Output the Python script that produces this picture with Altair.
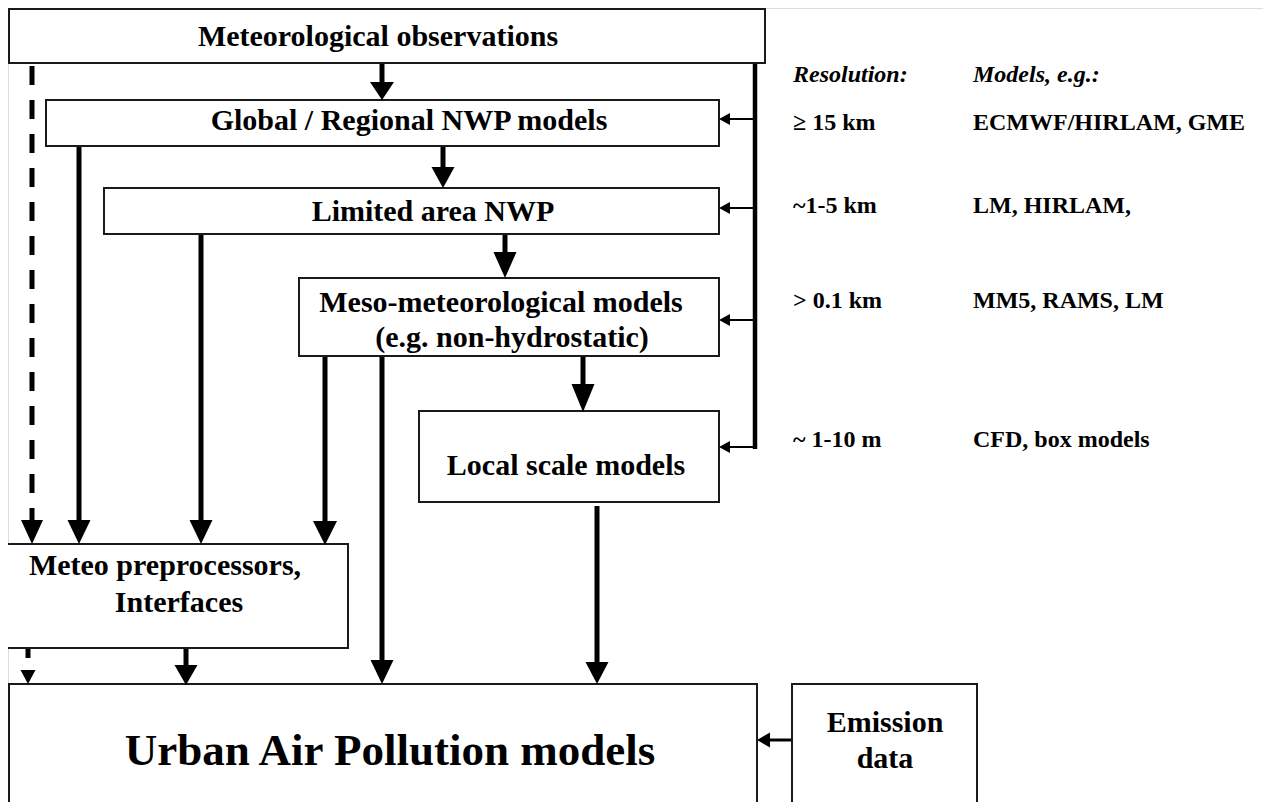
import altair as alt
import pandas as pd

# ---------------- data (reference pixel space) ----------------
box_names = ["obs", "global", "limited", "meso", "local", "prep", "urban", "emission"]
box_x1 = [9, 46, 104, 299, 419, 5, 9, 792]
box_x2 = [765, 719, 719, 719, 719, 348, 757, 977]
box_y1 = [9, 100, 188, 278, 411, 544, 684, 684]
box_y2 = [63, 146, 234, 356, 502, 648, 830, 830]

box_text = ["Meteorological observations", "Global / Regional NWP models", "Limited area NWP",
            "Meso-meteorological models", "(e.g. non-hydrostatic)", "Local scale models",
            "Meteo preprocessors,", "Interfaces", "Urban Air Pollution models", "Emission", "data"]
box_text_x = [378, 409, 433, 501, 512, 566, 165, 179, 390, 885, 885]
box_text_y = [46, 130, 221, 312, 347, 475, 575, 612, 765, 732, 768]
box_text_size = [30, 30, 30, 30, 30, 30, 30, 30, 45, 30, 30]

header_text = ["Resolution:", "Models, e.g.:"]
header_x = [793, 973]
header_y = [82, 82]

res_labels = ["\u2265 15 km", "~1-5 km", "> 0.1 km", "~ 1-10 m"]
model_labels = ["ECMWF/HIRLAM, GME", "LM, HIRLAM,", "MM5, RAMS, LM", "CFD, box models"]
row_y = [130, 213, 308, 447]
res_x = 793
model_x = 973

# downward arrows (solid)
down_x = [382, 443, 505, 583, 79, 201, 325, 382, 597, 186]
down_start = [63, 146, 234, 356, 146, 228, 356, 356, 506, 648]
down_tip = [100, 188, 278, 412, 544, 544, 545, 684, 684, 685]
down_w = [24, 23, 23, 23, 23, 23, 24, 23, 23, 23]
down_h = [18, 21, 26, 28, 24, 24, 24, 24, 22, 20]

# dashed arrows
dash_x = [32, 28]
dash_start = [66, 649]
dash_end = [521, 658]
dash_tip = [544, 684]
dash_w = [22, 15]
dash_h = [24, 14]

# right-hand feed line and small left arrows
feed_x = 755
feed_y1 = 62
feed_y2 = 449
left_y = [119, 208, 320, 447]
left_tip_x = [719, 719, 719, 719]
left_start_x = [755, 755, 755, 755]
left_len = [11, 11, 11, 11]
left_ht = [12, 12, 12, 12]

# emission arrow
em_y = [740]
em_tip_x = [757]
em_start_x = [792]
em_len = [13]
em_ht = [15]

# ---------------- tables ----------------
boxes = pd.DataFrame({"name": box_names, "x1": box_x1, "x2": box_x2, "y1": box_y1, "y2": box_y2})
btext = pd.DataFrame({"t": box_text, "x": box_text_x, "y": box_text_y, "s": box_text_size})
htext = pd.DataFrame({"t": header_text, "x": header_x, "y": header_y})
rtext = pd.DataFrame({"t": res_labels + model_labels,
                      "x": [res_x] * 4 + [model_x] * 4,
                      "y": row_y + row_y})

shafts = pd.DataFrame({
    "x": down_x,
    "y1": down_start,
    "y2": [t - h + 2 for t, h in zip(down_tip, down_h)],
})
dshafts = pd.DataFrame({"x": [dash_x[0]], "y1": [dash_start[0]], "y2": [dash_end[0]]})
dstub = pd.DataFrame({"x": [dash_x[1]], "y1": [dash_start[1]], "y2": [dash_end[1]]})

def down_path(w, h):
    return f"M-1,{-2*h/w:.4f}L1,{-2*h/w:.4f}L0,0Z"

def left_path(l, h):
    return f"M0,0L{2*l/h:.4f},-1L{2*l/h:.4f},1Z"

heads_down = pd.DataFrame({
    "x": down_x + dash_x,
    "y": down_tip + dash_tip,
    "path": [down_path(w, h) for w, h in zip(down_w + dash_w, down_h + dash_h)],
    "sz": [w * w for w in down_w + dash_w],
})
heads_left = pd.DataFrame({
    "x": left_tip_x + em_tip_x,
    "y": left_y + em_y,
    "path": [left_path(l, h) for l, h in zip(left_len + em_len, left_ht + em_ht)],
    "sz": [h * h for h in left_ht + em_ht],
})
hl_small = pd.DataFrame({
    "x1": [t + l - 2 for t, l in zip(left_tip_x, left_len)],
    "x2": left_start_x,
    "y": left_y,
})
hl_em = pd.DataFrame({
    "x1": [t + l - 2 for t, l in zip(em_tip_x, em_len)],
    "x2": em_start_x,
    "y": em_y,
})
feed = pd.DataFrame({"x": [feed_x], "y1": [feed_y1], "y2": [feed_y2]})

# ---------------- scales ----------------
xs = alt.Scale(domain=[8, 1263], nice=False, zero=False)
ys = alt.Scale(domain=[8, 802], nice=False, zero=False, reverse=True)
FONT = "Liberation Serif"

def X(f):
    return alt.X(f, type="quantitative", scale=xs, axis=None)

def Y(f):
    return alt.Y(f, type="quantitative", scale=ys, axis=None)

box_layer = alt.Chart(boxes).mark_rect(fill="white", stroke="#1a1a1a", strokeWidth=2).encode(
    x=X("x1"), x2="x2", y=Y("y1"), y2="y2")

shaft_layer = alt.Chart(shafts).mark_rule(color="black", strokeWidth=5).encode(
    x=X("x"), y=Y("y1"), y2="y2")
dash_layer = alt.Chart(dshafts).mark_rule(color="black", strokeWidth=5, strokeDash=[19, 15]).encode(
    x=X("x"), y=Y("y1"), y2="y2")
stub_layer = alt.Chart(dstub).mark_rule(color="black", strokeWidth=5).encode(
    x=X("x"), y=Y("y1"), y2="y2")
feed_layer = alt.Chart(feed).mark_rule(color="black", strokeWidth=4.5).encode(
    x=X("x"), y=Y("y1"), y2="y2")
small_h_layer = alt.Chart(hl_small).mark_rule(color="black", strokeWidth=2).encode(
    x=X("x1"), x2="x2", y=Y("y"))
em_h_layer = alt.Chart(hl_em).mark_rule(color="black", strokeWidth=3).encode(
    x=X("x1"), x2="x2", y=Y("y"))

head_d_layer = alt.Chart(heads_down).mark_point(filled=True, color="black", opacity=1, strokeWidth=0).encode(
    x=X("x"), y=Y("y"), shape=alt.Shape("path:N", scale=None), size=alt.Size("sz:Q", scale=None))
head_l_layer = alt.Chart(heads_left).mark_point(filled=True, color="black", opacity=1, strokeWidth=0).encode(
    x=X("x"), y=Y("y"), shape=alt.Shape("path:N", scale=None), size=alt.Size("sz:Q", scale=None))

btext_layer = alt.Chart(btext).mark_text(font=FONT, fontWeight="bold", align="center",
                                         baseline="alphabetic", color="black").encode(
    x=X("x"), y=Y("y"), text="t:N", size=alt.Size("s:Q", scale=None))
htext_layer = alt.Chart(htext).mark_text(font=FONT, fontWeight="bold", fontStyle="italic", fontSize=24,
                                         align="left", baseline="alphabetic", color="black").encode(
    x=X("x"), y=Y("y"), text="t:N")
rtext_layer = alt.Chart(rtext).mark_text(font=FONT, fontWeight="bold", fontSize=24,
                                         align="left", baseline="alphabetic", color="black").encode(
    x=X("x"), y=Y("y"), text="t:N")

chart = alt.layer(
    shaft_layer, dash_layer, stub_layer, feed_layer, small_h_layer, em_h_layer,
    box_layer, head_d_layer, head_l_layer, btext_layer, htext_layer, rtext_layer
).properties(
    width=1255, height=794, padding=0, autosize=alt.AutoSizeParams(type="none")
).configure_view(stroke=None).configure(background="white")

chart.save("out.html", embed_options={"renderer": "svg", "actions": False})
